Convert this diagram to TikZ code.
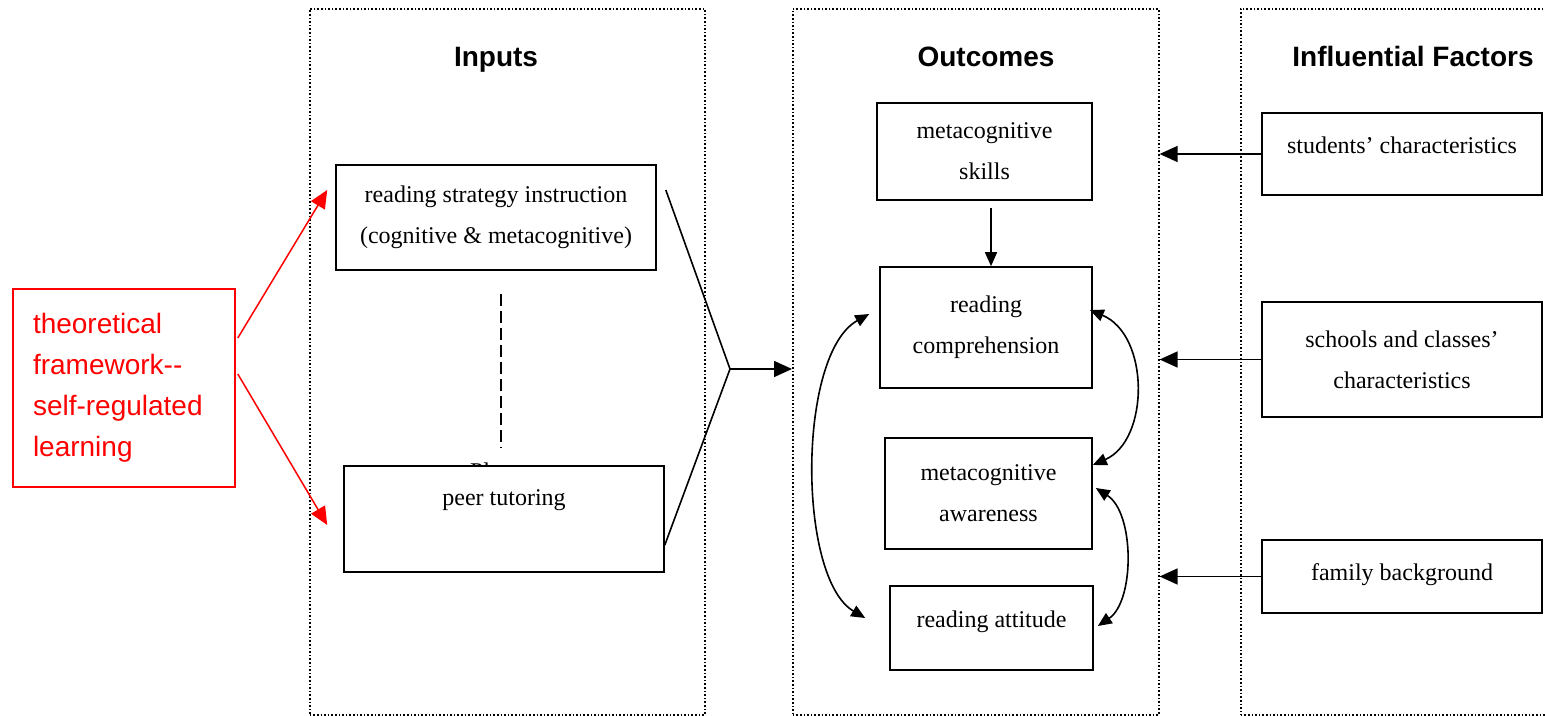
\documentclass[tikz,border=0pt]{standalone}
\usepackage{fontspec}
\setmainfont{Liberation Serif}
\setsansfont{Liberation Sans}
\usetikzlibrary{calc}
\usetikzlibrary{arrows.meta}

\begin{document}
\begin{tikzpicture}[x=0.5pt,y=-0.5pt,
    panel/.style={draw,densely dotted,line width=0.8pt,anchor=north west,minimum height=353pt},
    box/.style={draw,line width=0.8pt,align=center,inner sep=0pt,font=\fontsize{12}{20.5}\selectfont},
    lift/.style={text height=9pt,text depth=#1},
    heading/.style={anchor=base,font=\sffamily\bfseries\fontsize{14}{17}\selectfont},
    redbox/.style={draw=red,text=red,line width=0.8pt,align=left,text width=91pt,inner xsep=10pt,
        font=\sffamily\fontsize{14}{20.5}\selectfont},
    link/.style={line width=0.8pt},
    redlink/.style={red,line width=0.75pt,-{Triangle[length=9pt,width=8pt]}},
    dashlink/.style={line width=1.3pt,dash pattern=on 6pt off 2.5pt},
    bigtip/.style={-{Triangle[length=9pt,width=8pt]}},
    smalltip/.style={-{Triangle[length=7pt,width=6pt]}},
    twoway/.style={{Triangle[length=7pt,width=6pt]}-{Triangle[length=7pt,width=6pt]}}]
            % Define the sizes of the boxes
            \def\inw{160pt}  % width of input boxes
            \def\sidew{140pt}  % width of factor boxes

            \useasboundingbox (0,0) rectangle (1545,716);

            % Draw the three dotted panels
            \node[panel,minimum width=197.5pt] (inp) at (309,8) {};
            \node[panel,minimum width=183pt] (outc) at (792,8) {};
            \node[panel,minimum width=170pt] (infl) at (1240,8) {};

            \node[heading] (hin) at (496,67) {Inputs};
            \node[heading] (hout) at (986,67) {Outcomes};
            \node[heading] (hinf) at (1413,67) {Influential Factors};

            % Draw the theoretical framework
            \node[redbox,minimum width=111pt,minimum height=99pt] (frame) at (124,388)
                {theoretical\\framework-{}-\\self-regulated\\learning};

            % Draw the inputs
            \node[box,minimum width=\inw,minimum height=52.5pt] (rsi) at (496,217.5)
                {reading strategy instruction\\(cognitive \& metacognitive)};
            \node[anchor=base west,font=\fontsize{12}{20.5}\selectfont] (pl) at (463,479) {Pl};
            \node[box,fill=white,lift=23pt,minimum width=\inw,minimum height=53pt] (peer) at (504,519)
                {peer tutoring};

            % Draw the outcomes
            \node[box,minimum width=107.5pt,minimum height=48.5pt] (ms) at (984.5,151.5)
                {metacognitive\\skills};
            \node[box,minimum width=106pt,minimum height=60.5pt] (rc) at (986,327.5)
                {reading\\comprehension};
            \node[box,minimum width=103.5pt,minimum height=55.5pt] (ma) at (988.5,493.5)
                {metacognitive\\awareness};
            \node[box,lift=10pt,minimum width=101.5pt,minimum height=42pt] (ra) at (991.5,628)
                {reading attitude};

            % Draw the influential factors
            \node[box,lift=9.5pt,minimum width=\sidew,minimum height=41pt] (sc) at (1402,154)
                {students' characteristics};
            \node[box,minimum width=\sidew,minimum height=57.5pt] (scc) at (1402,359.5)
                {schools and classes'\\characteristics};
            \node[box,lift=5.5pt,minimum width=\sidew,minimum height=36.5pt] (fb) at (1402,576.5)
                {family background};

            % Red arrows from the framework
            \draw[redlink] ([xshift=1pt,yshift=25pt]frame.east) -- ([xshift=-4pt,yshift=13.75pt]rsi.west);
            \draw[redlink] ([xshift=1pt,yshift=7pt]frame.east) -- ([xshift=-8pt,yshift=-3pt]peer.west);

            % Inputs join and lead to the outcomes
            \draw[dashlink] ([xshift=2.5pt,yshift=-11.5pt]rsi.south) -- ([xshift=-1.5pt,yshift=9pt]peer.north);
            \coordinate (join) at (730,369);
            \draw[link] ([xshift=4.5pt,yshift=13.75pt]rsi.east) -- (join) -- ([yshift=-13pt]peer.east);
            \draw[link,bigtip] (join) -- (join -| outc.west);

            % Links between the outcomes
            \draw[link,smalltip] ([xshift=3.25pt,yshift=-3.5pt]ms.south) -- ([xshift=2.5pt]rc.north);
            \draw[link,twoway] ([xshift=-5pt,yshift=6.75pt]rc.west) .. controls +(-72,40) and +(-68,-40) .. ([xshift=-12pt,yshift=5pt]ra.west);
            \draw[link,twoway] ([xshift=-1.5pt,yshift=8.75pt]rc.east) .. controls +(60,25) and +(57,-25) .. ([yshift=14.25pt]ma.east);
            \draw[link,twoway] ([xshift=1.5pt,yshift=2.75pt]ma.east) .. controls +(39,25) and +(37,-25) .. ([xshift=2pt,yshift=1pt]ra.east);

            % Factors act on the outcomes
            \draw[link,bigtip] (sc.west) -- (sc.west -| outc.east);
            \draw[link,bigtip] (scc.west) -- (scc.west -| outc.east);
            \draw[link,bigtip] (fb.west) -- (fb.west -| outc.east);
\end{tikzpicture}
\end{document}
